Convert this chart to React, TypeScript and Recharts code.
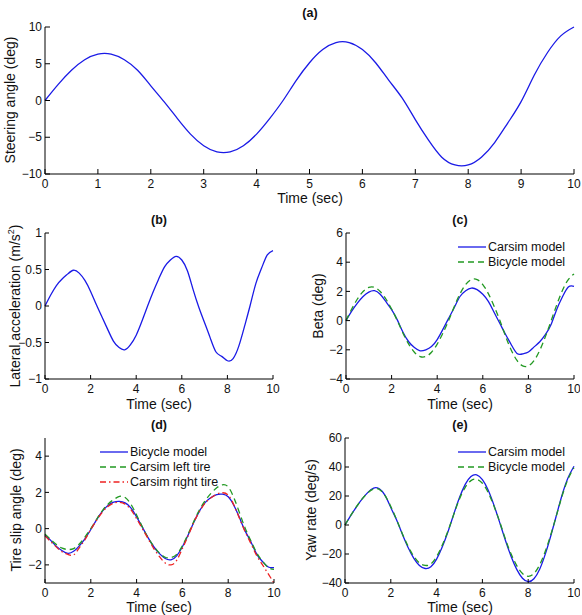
import React from 'react';
import { LineChart, Line, XAxis, YAxis } from 'recharts';

// sample times (sec)
const time = [0, 0.25, 0.5, 0.75, 1, 1.25, 1.5, 1.75, 2, 2.25, 2.5, 2.75, 3, 3.25, 3.5, 3.75, 4, 4.25, 4.5, 4.75, 5,
  5.25, 5.5, 5.75, 6, 6.25, 6.5, 6.75, 7, 7.25, 7.5, 7.75, 8, 8.25, 8.5, 8.75, 9, 9.25, 9.5, 9.75, 10];

// (a) steering angle (deg)
const steeringAngle = [0, 2.19, 4.11, 5.54, 6.3, 6.3, 5.54, 4.11, 2.0, -0.15, -2.43, -4.57, -6.15, -6.99, -6.99, -6.15,
  -4.57, -2.43, 0, 2.74, 5.14, 6.93, 7.88, 7.88, 6.93, 5.14, 2.74, 0.35, -2.6, -5.4, -7.71, -8.77, -8.77, -7.71, -5.72,
  -3.04, -0.15, 3.47, 6.53, 8.79, 10.0];

// (b) lateral acceleration (m/s^2)
const lateralAccel = [0, 0.15, 0.28, 0.37, 0.44, 0.49, 0.45, 0.35, 0.2, 0.02, -0.15, -0.32, -0.48, -0.57, -0.6, -0.53,
  -0.4, -0.21, 0, 0.2, 0.38, 0.54, 0.63, 0.68, 0.63, 0.48, 0.22, -0.02, -0.23, -0.44, -0.63, -0.69, -0.75, -0.72, -0.55,
  -0.28, 0.01, 0.31, 0.52, 0.7, 0.76];

// (c) beta (deg)
const betaCarsim = [0, 0.65, 1.2, 1.65, 1.95, 2.05, 1.8, 1.3, 0.75, 0.05, -0.8, -1.45, -1.85, -2.07, -2.0, -1.78, -1.3,
  -0.6, 0.15, 0.9, 1.65, 2.05, 2.23, 2.12, 1.8, 1.3, 0.55, -0.2, -0.95, -1.65, -2.25, -2.28, -2.15, -1.8, -1.45, -0.95,
  -0.25, 0.8, 1.65, 2.3, 2.35];
const betaBicycle = [0, 0.79, 1.48, 1.99, 2.27, 2.27, 1.99, 1.48, 0.79, 0, -0.86, -1.61, -2.17, -2.46, -2.46, -2.17,
  -1.61, -0.86, 0, 0.97, 1.83, 2.47, 2.81, 2.81, 2.47, 1.83, 0.97, 0, -1.08, -2.03, -2.73, -3.1, -3.1, -2.73, -2.03,
  -1.08, 0, 1.11, 2.09, 2.81, 3.2];

// (d) tire slip angle (deg)
const slipBicycle = [-0.35, -0.65, -0.98, -1.22, -1.36, -1.25, -0.95, -0.55, -0.05, 0.48, 0.95, 1.28, 1.46, 1.5, 1.42,
  1.15, 0.65, 0.08, -0.5, -1.0, -1.38, -1.65, -1.72, -1.5, -1.0, -0.35, 0.35, 0.98, 1.45, 1.72, 1.88, 1.9, 1.76, 1.28,
  0.58, -0.15, -0.75, -1.42, -1.82, -2.12, -2.15];
const slipLeftTire = [-0.3, -0.6, -0.88, -1.08, -1.15, -1.1, -0.85, -0.45, 0, 0.5, 0.98, 1.35, 1.6, 1.78, 1.72, 1.35,
  0.75, 0.1, -0.5, -0.98, -1.35, -1.58, -1.6, -1.42, -0.95, -0.3, 0.4, 1.05, 1.55, 1.95, 2.25, 2.42, 2.3, 1.7, 0.85, 0,
  -0.7, -1.35, -1.8, -2.15, -2.25];
const slipRightTire = [-0.4, -0.72, -1.02, -1.28, -1.42, -1.45, -1.05, -0.6, -0.05, 0.45, 0.9, 1.22, 1.4, 1.45, 1.35,
  1.05, 0.55, 0, -0.55, -1.1, -1.55, -1.9, -2.0, -1.75, -1.1, -0.4, 0.35, 0.95, 1.42, 1.7, 1.9, 1.98, 1.85, 1.3, 0.55,
  -0.2, -0.85, -1.5, -2.0, -2.5, -3.0];

// (e) yaw rate (deg/s)
const yawCarsim = [0, 6.5, 12.5, 18, 22.5, 25.5, 24.9, 20.4, 12, 3.6, -6.2, -15.3, -22.8, -27.9, -30, -28.8, -23.5,
  -15, -4.5, 7.5, 18.9, 28, 33.4, 34.6, 31.3, 24.2, 13.9, 2, -10.3, -21.5, -30.6, -36.7, -39.1, -37.1, -30.5, -19.9,
  -6.7, 7.7, 21.7, 32.9, 40.5];
const yawBicycle = [0, 6.6, 12.6, 18, 22.2, 24.8, 24.5, 20.2, 12.8, 3.8, -5.8, -14.5, -21.5, -26.2, -27.9, -26.8,
  -21.8, -13.8, -4, 7.3, 18, 26, 30.6, 31.5, 28.8, 22.5, 13.2, 2.5, -9.5, -19.8, -28, -33.5, -35.4, -33.5, -27.5, -18,
  -6, 7.5, 21, 32, 39.5];

// tick values
const timeTicksFine = [0, 1, 2, 3, 4, 5, 6, 7, 8, 9, 10];
const timeTicks = [0, 2, 4, 6, 8, 10];
const steeringTicks = [-10, -5, 0, 5, 10];
const accelTicks = [-1, -0.5, 0, 0.5, 1];
const betaTicks = [-4, -2, 0, 2, 4, 6];
const slipTicks = [-2, 0, 2, 4];
const yawTicks = [-40, -20, 0, 20, 40, 60];

const FONT = '"Liberation Sans", Arial, Helvetica, sans-serif';
const INK = '#111';
const BLUE = '#1a1ae6';
const GREEN = '#229922';
const RED = '#ee2222';

const minus = (v: number) => String(v).replace('-', '\u2212');

type Side = 'bottom' | 'top' | 'left' | 'right';

// matlab style ticks: pointing into the box, labels only on bottom/left
const makeTick = (side: Side, len: number) => (props: any) => {
  const { x, y, payload } = props;
  const v = payload.value as number;
  const dx = side === 'left' ? len : side === 'right' ? -len : 0;
  const dy = side === 'bottom' ? -len : side === 'top' ? len : 0;
  return (
    <g>
      <line x1={x} y1={y} x2={x + dx} y2={y + dy} stroke="#000" strokeWidth={1} />
      {side === 'bottom' && (
        <text x={x} y={y + 14} textAnchor="middle" fontSize={12} fill={INK} fontFamily={FONT}>{minus(v)}</text>
      )}
      {side === 'left' && (
        <text x={x - 3} y={y} dy="0.35em" textAnchor="end" fontSize={12} fill={INK} fontFamily={FONT}>{minus(v)}</text>
      )}
    </g>
  );
};

interface Series {
  key: string;
  values: number[];
  color: string;
  dash?: string;
}

interface PanelProps {
  left: number;
  top: number;
  width: number;
  height: number;
  plotTop: number;
  plotRight: number;
  yAxisWidth: number;
  xAxisHeight: number;
  xTicks: number[];
  yTicks: number[];
  yDomain: [number, number];
  tickLen: number;
  series: Series[];
}

const Panel: React.FC<PanelProps> = ({
  left, top, width, height, plotTop, plotRight, yAxisWidth, xAxisHeight, xTicks, yTicks, yDomain, tickLen, series,
}) => {
  const rows = time.map((t, i) => {
    const row: Record<string, number> = { t };
    series.forEach((s) => {
      row[s.key] = s.values[i];
    });
    return row;
  });

  return (
    <div style={{ position: 'absolute', left, top }}>
      <LineChart width={width} height={height} data={rows} margin={{ top: plotTop, right: plotRight, bottom: 0, left: 0 }}>
        <XAxis xAxisId="bottom" dataKey="t" type="number" domain={[0, 10]} ticks={xTicks} interval={0}
          height={xAxisHeight} tickSize={0} tickMargin={0} tickLine={false} tick={makeTick('bottom', tickLen)}
          stroke="#000" />
        <XAxis xAxisId="top" orientation="top" dataKey="t" type="number" domain={[0, 10]} ticks={xTicks} interval={0}
          height={0} tickSize={0} tickMargin={0} tickLine={false} tick={makeTick('top', tickLen)} stroke="#000" />
        <YAxis yAxisId="left" type="number" domain={yDomain} ticks={yTicks} interval={0} width={yAxisWidth}
          tickSize={0} tickMargin={0} tickLine={false} tick={makeTick('left', tickLen)} stroke="#000" />
        <YAxis yAxisId="right" orientation="right" type="number" domain={yDomain} ticks={yTicks} interval={0}
          width={0} tickSize={0} tickMargin={0} tickLine={false} tick={makeTick('right', tickLen)} stroke="#000" />
        {series.map((s) => (
          <Line key={s.key} xAxisId="bottom" yAxisId="left" dataKey={s.key} type="natural" stroke={s.color}
            strokeWidth={1.3} strokeDasharray={s.dash} dot={false} activeDot={false} isAnimationActive={false} />
        ))}
      </LineChart>
    </div>
  );
};

const Title = ({ x, y, text }: { x: number; y: number; text: string }) => (
  <div style={{ position: 'absolute', left: x, top: y, transform: 'translate(-50%, -50%)', fontFamily: FONT,
    fontSize: 12.5, fontWeight: 'bold', color: INK, whiteSpace: 'nowrap', lineHeight: '14px' }}>{text}</div>
);

const AxisLabel = ({ x, y, vertical, children }: { x: number; y: number; vertical?: boolean; children: React.ReactNode }) => (
  <div style={{ position: 'absolute', left: x, top: y,
    transform: vertical ? 'translate(-50%, -50%) rotate(-90deg)' : 'translate(-50%, -50%)',
    fontFamily: FONT, fontSize: 14, color: INK, whiteSpace: 'nowrap', lineHeight: '14px' }}>{children}</div>
);

const LegendBox = ({ x, y, items }: { x: number; y: number; items: { label: string; color: string; dash?: string }[] }) => (
  <div style={{ position: 'absolute', left: x, top: y }}>
    {items.map((it, i) => (
      <div key={it.label} style={{ position: 'absolute', left: 0, top: i * 15 - 8, height: 16, display: 'flex',
        alignItems: 'center', whiteSpace: 'nowrap' }}>
        <svg width={29} height={16}>
          <line x1={0} y1={8} x2={28} y2={8} stroke={it.color} strokeWidth={1.3} strokeDasharray={it.dash} />
        </svg>
        <span style={{ fontFamily: FONT, fontSize: 12.5, color: INK, marginLeft: 1, lineHeight: '14px' }}>{it.label}</span>
      </div>
    ))}
  </div>
);

const DASH = '6 4';
const DASH_DOT = '6 3 1.5 3';

export default function App() {
  return (
    <div style={{ position: 'absolute', left: 0, top: 0, width: 582, height: 615, background: '#fff', overflow: 'hidden' }}>
      <Panel left={0} top={0} width={582} height={204} plotTop={27} plotRight={8} yAxisWidth={45} xAxisHeight={30}
        xTicks={timeTicksFine} yTicks={steeringTicks} yDomain={[-10, 10]} tickLen={5}
        series={[{ key: 'steer', values: steeringAngle, color: BLUE }]} />
      <Panel left={0} top={205} width={290} height={202} plotTop={28} plotRight={17} yAxisWidth={45} xAxisHeight={28}
        xTicks={timeTicks} yTicks={accelTicks} yDomain={[-1, 1]} tickLen={4}
        series={[{ key: 'ay', values: lateralAccel, color: BLUE }]} />
      <Panel left={296} top={205} width={284} height={202} plotTop={28} plotRight={6} yAxisWidth={50} xAxisHeight={28}
        xTicks={timeTicks} yTicks={betaTicks} yDomain={[-4, 6]} tickLen={4}
        series={[
          { key: 'carsim', values: betaCarsim, color: BLUE },
          { key: 'bicycle', values: betaBicycle, color: GREEN, dash: DASH },
        ]} />
      <Panel left={0} top={410} width={290} height={198} plotTop={28} plotRight={16} yAxisWidth={45} xAxisHeight={25}
        xTicks={timeTicks} yTicks={slipTicks} yDomain={[-3, 5]} tickLen={4}
        series={[
          { key: 'bicycle', values: slipBicycle, color: BLUE },
          { key: 'left', values: slipLeftTire, color: GREEN, dash: DASH },
          { key: 'right', values: slipRightTire, color: RED, dash: DASH_DOT },
        ]} />
      <Panel left={296} top={410} width={284} height={198} plotTop={28} plotRight={6} yAxisWidth={49} xAxisHeight={25}
        xTicks={timeTicks} yTicks={yawTicks} yDomain={[-40, 60]} tickLen={4}
        series={[
          { key: 'carsim', values: yawCarsim, color: BLUE },
          { key: 'bicycle', values: yawBicycle, color: GREEN, dash: DASH },
        ]} />

      <Title x={310} y={13} text="(a)" />
      <Title x={159} y={220} text="(b)" />
      <Title x={460} y={220} text="(c)" />
      <Title x={159} y={425} text="(d)" />
      <Title x={460} y={425} text="(e)" />

      <AxisLabel x={310} y={198}>Time (sec)</AxisLabel>
      <AxisLabel x={159} y={404}>Time (sec)</AxisLabel>
      <AxisLabel x={460} y={404}>Time (sec)</AxisLabel>
      <AxisLabel x={159} y={607}>Time (sec)</AxisLabel>
      <AxisLabel x={460} y={607}>Time (sec)</AxisLabel>

      <AxisLabel x={10} y={100} vertical>Steering angle (deg)</AxisLabel>
      <AxisLabel x={13} y={306} vertical>Lateral acceleration (m/s<sup style={{ fontSize: 9 }}>2</sup>)</AxisLabel>
      <AxisLabel x={318} y={306} vertical>Beta (deg)</AxisLabel>
      <AxisLabel x={16} y={510} vertical>Tire slip angle (deg)</AxisLabel>
      <AxisLabel x={311} y={510} vertical>Yaw rate (deg/s)</AxisLabel>

      <LegendBox x={458} y={247} items={[
        { label: 'Carsim model', color: BLUE },
        { label: 'Bicycle model', color: GREEN, dash: DASH },
      ]} />
      <LegendBox x={100} y={452} items={[
        { label: 'Bicycle model', color: BLUE },
        { label: 'Carsim left tire', color: GREEN, dash: DASH },
        { label: 'Carsim right tire', color: RED, dash: DASH_DOT },
      ]} />
      <LegendBox x={458} y={452} items={[
        { label: 'Carsim model', color: BLUE },
        { label: 'Bicycle model', color: GREEN, dash: DASH },
      ]} />
    </div>
  );
}
